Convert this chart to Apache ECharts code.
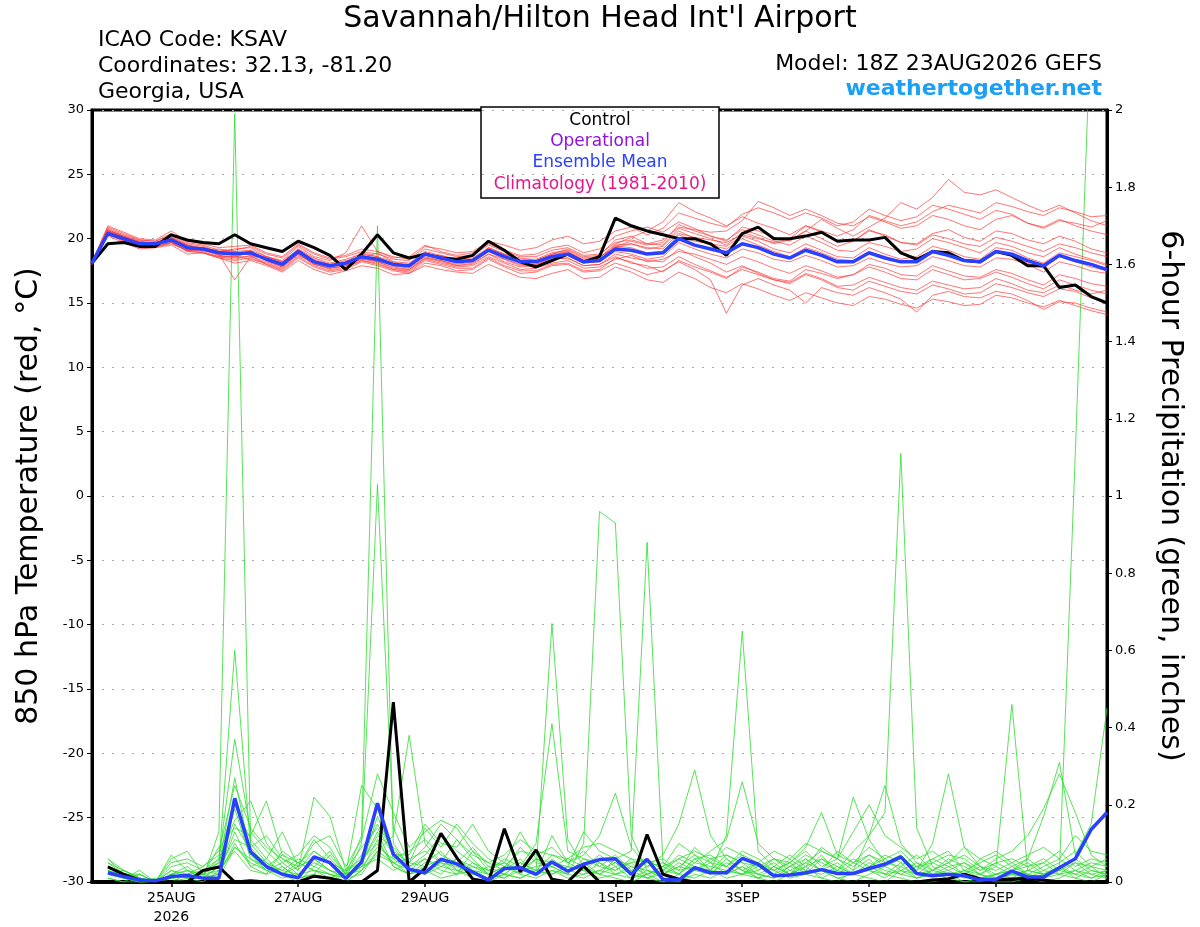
<!DOCTYPE html>
<html>
<head>
<meta charset="utf-8">
<title>KSAV GEFS</title>
<script src="https://cdn.jsdelivr.net/npm/echarts@6/dist/echarts.min.js"></script>
<style>
  html, body { margin: 0; padding: 0; background: #fff; }
  #chart { width: 1200px; height: 927px; }
</style>
</head>
<body>
<div id="chart"></div>
<script>
// 6-hourly steps from 18Z 23AUG2026 to 18Z 8SEP2026 (65 steps)
const tickIndex = [5, 13, 21, 33, 41, 49, 57];
const tickLabels = ['25AUG\n2026', '27AUG', '29AUG', '1SEP', '3SEP', '5SEP', '7SEP'];

// 850 hPa temperature, deg C
const tempControl = [
  18.1,19.6,19.7,19.4,19.4,20.3,19.9,19.7,19.6,20.3,
  19.6,19.3,19.0,19.8,19.3,18.7,17.6,18.8,20.3,18.9,
  18.5,18.8,18.5,18.4,18.7,19.8,19.1,18.2,17.8,18.3,
  18.8,18.2,18.6,21.6,21.0,20.6,20.3,20.0,20.0,19.6,
  18.7,20.4,20.9,20.0,20.0,20.2,20.5,19.8,19.9,19.9,
  20.1,18.9,18.4,19.0,18.9,18.3,18.2,19.0,18.7,17.9,
  17.9,16.2,16.4,15.5,15.0];
const tempMean = [
  18.1,20.4,20.0,19.6,19.6,19.9,19.3,19.2,18.9,18.8,
  18.9,18.4,18.0,19.0,18.2,17.9,18.1,18.6,18.4,18.0,
  17.9,18.8,18.5,18.2,18.3,19.1,18.6,18.2,18.2,18.6,
  18.8,18.2,18.3,19.2,19.1,18.8,18.9,20.0,19.5,19.2,
  18.9,19.6,19.3,18.8,18.5,19.1,18.7,18.2,18.2,18.9,
  18.5,18.2,18.2,19.0,18.7,18.3,18.2,19.0,18.8,18.3,
  17.9,18.7,18.3,18.0,17.6];

const t01 = [18.1,20.8,20.3,19.9,19.8,20.3,19.6,19.4,19.0,19.2, 19.3,18.6,18.3,19.4,18.6,18.3,18.9,21.0,19.0,18.6, 18.4,19.4,19.2,18.9,19.0,19.8,19.5,19.1,19.3,19.9, 20.2,19.6,19.8,20.6,20.9,20.3,20.8,22.0,21.6,21.2, 20.9,21.9,22.4,22.0,21.5,22.0,21.6,21.0,21.3,22.3, 21.8,21.4,21.7,22.6,22.3,21.9,21.5,22.2,21.9,21.2, 20.9,21.5,21.0,20.6,20.3];
const t02 = [18.1,20.2,19.7,19.2,19.3,19.5,18.8,18.9,18.5,18.1, 18.3,17.9,17.4,18.3,17.6,17.2,17.5,17.9,17.7,17.2, 17.3,17.9,17.6,17.4,17.3,18.0,17.5,17.0,16.9,17.3, 17.6,16.9,17.0,17.8,17.4,16.8,16.6,17.4,16.9,16.2, 15.8,16.5,16.1,15.6,15.2,15.8,15.4,15.0,14.8,15.5, 15.3,14.9,14.6,15.3,15.1,14.8,14.9,15.6,15.4,15.0, 14.7,15.2,14.8,14.4,14.1];
const t03 = [18.0,20.6,20.1,19.8,19.5,20.0,19.5,19.1,19.2,19.0, 18.7,18.6,18.2,19.1,18.4,18.0,18.3,18.5,18.9,18.2, 17.8,18.7,18.7,18.3,18.2,19.3,18.8,18.5,18.3,18.8, 19.2,18.6,18.7,19.9,20.2,19.6,19.5,20.8,20.4,20.0, 19.5,20.5,20.1,19.6,19.9,20.6,20.0,19.4,19.8,20.7, 20.2,19.7,19.6,20.4,20.7,20.1,19.8,20.6,20.4,19.9, 19.6,20.2,19.8,19.2,18.9];
const t04 = [18.1,20.5,19.9,19.4,19.7,19.8,19.0,19.3,18.7,18.5, 19.1,18.3,17.8,18.8,18.0,17.7,17.9,18.6,18.2,17.8, 17.6,18.5,18.2,17.9,18.1,18.8,18.2,17.8,17.9,18.4, 18.5,17.9,18.0,18.8,18.5,18.3,18.2,19.2,18.6,18.1, 17.4,17.9,17.3,16.8,16.5,17.2,16.8,16.2,16.0,16.7, 16.3,15.9,15.7,16.4,16.1,15.7,15.8,16.5,16.2,15.8, 15.5,16.1,15.9,15.4,15.0];
const t05 = [18.2,21.0,20.5,20.0,19.9,20.6,19.8,19.6,19.3,19.4, 19.5,18.9,18.6,19.6,18.9,18.5,18.7,19.2,19.0,18.5, 18.6,19.5,19.0,18.7,18.9,19.6,19.1,18.7,18.8,19.3, 19.5,18.9,19.2,20.2,20.6,20.9,20.5,21.3,20.8,20.2, 19.8,20.9,20.6,20.1,19.8,20.6,21.5,20.8,20.2,20.9, 21.6,22.8,22.3,23.2,24.6,23.6,23.4,23.8,23.2,22.6, 22.1,22.6,22.0,21.4,21.0];
const t06 = [18.0,20.3,19.9,19.5,19.4,19.6,19.1,19.0,18.6,18.6, 18.4,18.1,17.7,18.7,18.1,17.6,17.8,18.3,18.0,17.6, 17.5,18.4,18.1,17.8,17.9,18.6,18.1,17.6,17.7,18.1, 18.3,17.7,17.8,18.4,18.7,18.2,18.4,19.0,18.8,18.4, 18.0,18.6,18.2,17.7,17.3,17.9,17.5,17.0,17.2,17.8, 17.4,16.9,16.8,17.6,17.2,16.8,16.9,17.4,17.0,16.5, 16.1,16.8,16.4,16.0,15.7];
const t07 = [18.1,20.7,20.2,19.7,19.6,20.1,19.4,19.2,18.8,16.8, 18.6,18.5,18.1,19.2,18.3,17.9,18.0,18.4,18.3,17.9, 17.7,18.6,18.3,18.0,18.2,19.0,18.4,18.0,18.0,18.5, 18.7,18.1,18.2,19.0,18.8,18.4,18.6,19.7,19.2,18.8, 18.5,19.2,18.9,18.4,18.2,18.7,18.3,17.8,17.9,18.5, 18.1,17.8,17.9,18.6,18.3,17.9,17.8,18.5,18.4,18.0, 17.4,18.2,17.9,17.5,17.3];
const t08 = [18.1,20.9,20.4,19.9,19.8,20.4,19.7,19.5,19.1,19.1, 19.4,18.8,18.5,19.5,18.8,18.4,18.6,19.0,18.8,18.4, 18.3,19.2,18.9,18.6,18.7,19.5,19.0,18.6,18.6,19.1, 19.3,18.7,18.8,19.7,19.9,19.6,19.9,20.9,20.7,20.5, 20.6,21.4,22.9,22.4,21.8,22.3,21.8,21.2,21.0,21.7, 21.3,20.8,21.0,21.8,21.5,21.0,20.7,21.5,21.8,21.2, 20.8,21.4,21.2,20.9,21.4];
const t09 = [18.0,20.4,19.8,19.3,19.3,19.7,19.0,18.9,18.5,18.3, 18.5,18.0,17.5,18.5,17.8,17.4,17.6,18.2,17.9,17.5, 17.3,18.1,17.9,17.5,17.6,18.4,17.8,17.3,17.4,17.9, 18.0,17.4,17.5,18.1,17.7,17.2,17.5,18.2,17.6,16.8, 14.2,16.4,16.9,16.4,16.0,15.0,16.2,15.8,15.6,16.2, 15.8,15.3,14.3,15.6,15.9,15.5,15.4,15.9,15.7,15.2, 14.5,15.1,15.0,14.6,14.3];
const t10 = [18.1,20.6,20.1,19.7,19.6,20.0,19.3,19.3,19.0,18.9, 18.9,18.3,17.9,19.0,18.2,17.8,18.2,18.6,18.5,18.1, 17.9,18.8,18.6,18.2,18.3,19.1,18.6,18.3,18.2,18.6, 18.8,18.2,18.3,19.4,19.3,18.9,19.0,20.3,19.8,19.6, 19.4,20.2,19.8,19.2,18.9,19.6,19.1,18.6,18.5,19.3, 18.8,18.4,18.6,19.4,19.1,18.6,18.4,19.3,19.1,18.5, 18.1,18.9,18.6,18.3,17.9];
const t11 = [18.2,20.5,20.0,19.6,19.5,19.9,19.2,19.1,18.8,18.8, 18.8,18.4,17.9,18.9,18.3,17.8,18.0,18.7,18.4,18.0, 17.9,18.9,18.5,18.2,18.4,19.2,18.7,18.2,18.3,18.7, 19.0,18.4,18.5,19.5,19.6,19.3,19.2,20.4,20.1,19.9, 19.7,20.3,20.0,19.7,20.0,21.0,20.6,20.2,20.7,21.8, 21.4,21.0,21.3,22.1,22.6,22.3,22.0,22.8,22.5,22.1, 21.8,22.4,22.1,21.7,21.8];
const t12 = [18.0,20.3,19.8,19.4,19.4,19.7,19.1,18.9,18.6,18.4, 18.7,18.0,17.6,18.6,17.9,17.5,17.7,18.3,18.1,17.6, 17.4,18.3,18.0,17.7,17.7,18.5,17.9,17.5,17.5,18.0, 18.1,17.5,17.6,18.5,18.2,17.7,17.8,18.6,18.0,17.5, 17.0,17.6,17.2,16.8,16.6,17.3,16.9,16.3,16.4,17.0, 16.6,16.2,16.0,16.7,16.4,16.1,16.2,16.9,16.5,16.0, 15.8,16.4,16.0,15.7,16.0];
const t13 = [18.1,20.7,20.2,19.8,19.7,20.2,19.5,19.3,19.0,19.0, 19.1,18.6,18.2,19.2,18.5,18.1,18.4,18.8,18.6,18.2, 18.1,19.0,18.7,18.4,18.5,19.3,18.8,18.4,18.4,18.9, 19.1,18.5,18.6,19.3,19.6,19.2,19.4,20.6,20.0,19.5, 19.2,20.0,19.5,19.0,18.6,19.3,18.9,18.4,18.3,19.0, 18.6,18.2,18.3,19.1,18.8,18.3,18.1,19.0,18.7,18.1, 17.7,18.6,18.2,17.8,17.5];
const t14 = [18.1,20.6,20.2,19.7,19.7,20.1,19.5,19.2,18.9,18.9, 19.0,18.4,18.0,19.1,18.3,17.9,18.2,18.9,18.6,18.0, 17.8,18.9,18.6,18.3,18.4,19.2,18.7,18.3,18.3,18.8, 19.0,18.3,18.5,19.6,20.1,20.6,21.3,22.8,22.1,21.6, 21.0,21.7,21.2,20.8,20.3,21.0,20.5,19.9,19.8,20.6, 20.3,19.7,19.5,20.3,20.0,19.6,19.4,20.1,19.8,19.4, 19.0,19.6,19.3,18.9,18.6];
const t15 = [18.0,20.4,19.9,19.4,19.5,19.7,19.1,19.1,18.7,18.6, 18.6,18.2,17.8,18.8,18.0,17.7,17.9,18.4,18.2,17.7, 17.6,18.5,18.3,17.9,18.0,18.8,18.4,17.9,18.0,18.4, 18.5,17.9,18.0,18.6,18.1,17.9,17.4,18.3,17.8,17.4, 16.9,17.8,17.4,16.9,16.7,17.6,17.3,16.9,17.2,18.0, 17.7,17.2,17.1,17.9,17.5,17.1,17.0,17.6,17.3,16.8, 16.4,17.2,16.9,16.5,16.3];
const t16 = [18.1,20.5,20.1,19.6,19.6,19.9,19.3,19.2,18.9,18.8, 18.9,18.4,18.0,19.0,18.2,17.9,18.1,18.6,18.4,18.0, 17.9,18.8,18.5,18.2,18.3,19.1,18.6,18.2,18.2,18.6, 18.8,18.2,18.3,19.4,19.8,19.5,19.7,21.1,20.6,20.2, 19.9,20.7,20.3,19.8,19.5,20.2,19.7,19.1,19.0,19.7, 19.4,19.0,19.2,20.0,19.7,19.3,18.9,19.7,19.4,18.9, 18.6,19.3,18.8,18.4,18.0];

// 6-hour precipitation, inches (first step has no accumulation)
const precipControl = [
  null,0.039,0.02,0.005,0,0,0,0.03,0.039,0,
  0.003,0,0,0,0.015,0.01,0,0,0.03,0.466,
  0,0.035,0.126,0.063,0.008,0,0.138,0.026,0.083,0.007,
  0,0.041,0,0,0,0.123,0.02,0.007,0,0,
  0,0,0,0,0,0,0,0,0,0,
  0,0,0,0.005,0.008,0.02,0.008,0.005,0.008,0.01,
  0.005,0,0,0,0];
const precipMean = [
  null,0.024,0.014,0.005,0.003,0.014,0.017,0.01,0.01,0.217,
  0.078,0.04,0.02,0.011,0.065,0.05,0.009,0.052,0.204,0.072,
  0.033,0.024,0.059,0.047,0.026,0.005,0.035,0.037,0.02,0.052,
  0.028,0.046,0.058,0.06,0.02,0.059,0.007,0.005,0.037,0.024,
  0.024,0.061,0.046,0.016,0.018,0.024,0.032,0.022,0.022,0.035,
  0.046,0.065,0.022,0.016,0.02,0.016,0.005,0.007,0.028,0.013,
  0.013,0.037,0.06,0.136,0.18];

const p01 = [null,0.03,0.01,0,0,0.02,0.04,0.01,0.13,1.99, 0.10,0.05,0.02,0,0.04,0.02,0,0.03,0.08,0.05, 0.02,0.04,0.06,0.03,0.01,0,0.02,0.05,0.03,0.67, 0.11,0.04,0.02,0.01,0,0.02,0,0,0.03,0.05, 0.02,0.04,0.01,0,0.02,0.04,0.01,0,0.03,0.06, 0.02,0.01,0,0,0.01,0.03,0.02,0,0,0.01, 0.02,0.04,0.01,0,0.02];
const p02 = [null,0.06,0.02,0.01,0,0.01,0.02,0.03,0.05,0.60, 0.09,0.12,0.06,0.03,0.08,0.05,0.01,0.10,1.03,0.14, 0.05,0.09,0.15,0.11,0.06,0.02,0.04,0.02,0.01,0.03, 0.02,0.06,0.04,0.03,0.05,0.01,0,0.02,0.06,0.03, 0.01,0.02,0.05,0.03,0.01,0.02,0.06,0.04,0.02,0.01, 0,0.03,0.05,0.02,0.01,0,0,0.02,0.01,0.03, 0.05,0.02,0.01,0.03,0.02];
const p03 = [null,0.02,0.01,0,0,0,0.01,0.02,0.01,0.09, 0.05,0.03,0.01,0.02,0.06,0.03,0.02,0.12,1.70,0.10, 0.04,0.06,0.03,0.02,0.08,0.03,0.05,0.02,0.06,0.04, 0.02,0.10,0.96,0.93,0.12,0.03,0.01,0,0.02,0.01, 0.03,0.02,0.01,0.04,0.02,0.05,0.03,0.01,0,0.02, 0.04,0.02,0.01,0.03,0.02,0,0.01,0,0.02,0.01, 0,0.01,0.03,0.02,0.01];
const p04 = [null,0.04,0.02,0.01,0,0.03,0.01,0.02,0.06,0.37, 0.13,0.08,0.04,0.01,0.02,0.07,0.02,0.04,0.09,0.06, 0.03,0.02,0.05,0.04,0.02,0.01,0.03,0.06,0.02,0.12, 0.05,0.03,0.02,0.06,0.08,0.88,0.05,0.03,0.04,0.02, 0.06,0.03,0.02,0.01,0.04,0.03,0.07,0.02,0.05,0.03, 0.02,0.05,0.01,0.02,0.04,0.02,0.01,0.02,0.03,0.02, 0.01,0.03,0.02,0.04,0.01];
const p05 = [null,0.01,0,0.02,0,0.01,0.03,0.01,0.04,0.27, 0.07,0.03,0.05,0.02,0.03,0.01,0.03,0.05,0.13,0.04, 0.02,0.05,0.08,0.03,0.04,0.02,0.01,0.03,0.04,0.05, 0.03,0.02,0.05,0.02,0.03,0.01,0.02,0.04,0.07,0.03, 0.12,0.65,0.08,0.04,0.02,0.06,0.03,0.05,0.02,0.04, 0.06,0.03,0.02,0.05,0.03,0.01,0.02,0.04,0.02,0.01, 0.03,0.02,0.05,0.02,0.03];
const p06 = [null,0.03,0.01,0,0.01,0,0.02,0.01,0.02,0.13, 0.04,0.02,0.08,0.05,0.03,0.02,0.01,0.04,0.17,0.07, 0.03,0.02,0.04,0.06,0.03,0.01,0.02,0.01,0.03,0.02, 0.04,0.03,0.01,0.02,0.04,0.03,0.02,0.05,0.03,0.06, 0.04,0.02,0.03,0.05,0.02,0.04,0.06,0.03,0.08,0.12, 0.18,1.11,0.14,0.04,0.02,0.03,0.01,0.02,0.04,0.02, 0.01,0.02,0.03,0.01,0.02];
const p07 = [null,0.02,0.03,0.01,0,0.02,0.01,0,0.03,0.09, 0.06,0.04,0.03,0.02,0.05,0.03,0.01,0.02,0.08,0.12, 0.38,0.10,0.05,0.02,0.03,0.02,0.04,0.03,0.02,0.06, 0.03,0.05,0.02,0.04,0.01,0.03,0.02,0.04,0.03,0.02, 0.05,0.03,0.01,0.02,0.06,0.03,0.02,0.04,0.02,0.03, 0.01,0.04,0.02,0.03,0.05,0.02,0.06,0.04,0.46,0.03, 0.02,0.04,0.02,0.01,0.03];
const p08 = [null,0.01,0,0,0,0.01,0,0.02,0.03,0.08, 0.03,0.02,0.04,0.01,0.02,0.01,0,0.03,0.11,0.04, 0.02,0.03,0.01,0.02,0.05,0.02,0.01,0.04,0.02,0.03, 0.01,0.02,0.03,0.02,0.01,0.02,0.04,0.02,0.01,0.03, 0.02,0.04,0.02,0.01,0.03,0.02,0.01,0.03,0.02,0.04, 0.02,0.03,0.01,0.02,0.01,0.02,0.04,0.01,0.02,0.03, 0.02,0.03,1.11,2.25,2.60];
const p09 = [null,0.05,0.03,0.01,0,0.02,0.01,0.03,0.02,0.10, 0.04,0.06,0.02,0.05,0.03,0.02,0.01,0.04,0.06,0.03, 0.05,0.04,0.02,0.06,0.04,0.03,0.02,0.01,0.03,0.04, 0.02,0.01,0.03,0.05,0.02,0.01,0.03,0.02,0.05,0.04, 0.03,0.02,0.04,0.03,0.05,0.02,0.03,0.01,0.02,0.05, 0.03,0.02,0.04,0.02,0.03,0.05,0.02,0.01,0.03,0.06, 0.17,0.31,0.07,0.15,0.45];
const p10 = [null,0.02,0.01,0.03,0,0.06,0.08,0.02,0.05,0.19, 0.06,0.03,0.02,0.04,0.11,0.06,0.02,0.03,0.07,0.05, 0.03,0.06,0.04,0.03,0.02,0.04,0.05,0.03,0.06,0.02, 0.04,0.03,0.06,0.05,0.02,0.04,0.07,0.15,0.29,0.12, 0.06,0.03,0.05,0.02,0.04,0.06,0.03,0.08,0.05,0.07, 0.04,0.06,0.03,0.10,0.28,0.09,0.04,0.02,0.03,0.05, 0.02,0.04,0.06,0.03,0.02];
const p11 = [null,0.04,0.02,0,0,0.07,0.03,0.01,0.02,0.15, 0.08,0.05,0.03,0.06,0.04,0.08,0.02,0.25,0.19,0.06, 0.08,0.11,0.07,0.05,0.09,0.04,0.02,0.05,0.03,0.07, 0.05,0.08,0.04,0.07,0.03,0.05,0.06,0.03,0.09,0.05, 0.04,0.07,0.03,0.06,0.05,0.08,0.04,0.06,0.03,0.12, 0.25,0.10,0.05,0.03,0.06,0.04,0.02,0.05,0.03,0.04, 0.06,0.03,0.05,0.04,0.03];
const p12 = [null,0.03,0.01,0.02,0,0.01,0.02,0.04,0.07,0.20, 0.11,0.06,0.13,0.04,0.06,0.03,0.01,0.05,0.12,0.09, 0.04,0.07,0.12,0.08,0.05,0.03,0.06,0.04,0.10,0.41, 0.08,0.06,0.05,0.03,0.06,0.02,0.04,0.06,0.04,0.03, 0.07,0.05,0.02,0.04,0.07,0.04,0.09,0.06,0.22,0.11, 0.05,0.04,0.07,0.03,0.05,0.07,0.04,0.03,0.05,0.02, 0.04,0.06,0.03,0.05,0.04];
const p13 = [null,0.02,0.03,0.01,0,0.03,0.02,0.01,0.04,0.11, 0.09,0.04,0.07,0.03,0.22,0.17,0.03,0.06,0.10,0.05, 0.06,0.08,0.05,0.11,0.07,0.05,0.03,0.09,0.05,0.04, 0.06,0.04,0.07,0.04,0.05,0.06,0.03,0.07,0.05,0.08, 0.11,0.26,0.10,0.06,0.04,0.07,0.05,0.03,0.06,0.04, 0.07,0.05,0.04,0.06,0.08,0.03,0.05,0.07,0.04,0.06, 0.03,0.05,0.08,0.04,0.06];
const p14 = [null,0.05,0.02,0.01,0,0.04,0.05,0.03,0.06,0.16, 0.21,0.10,0.05,0.07,0.12,0.09,0.02,0.07,0.15,0.08, 0.05,0.14,0.09,0.15,0.10,0.06,0.04,0.08,0.07,0.09, 0.05,0.07,0.12,0.23,0.09,0.04,0.05,0.02,0.06,0.07, 0.04,0.08,0.06,0.03,0.05,0.09,0.18,0.07,0.05,0.09, 0.06,0.08,0.04,0.05,0.07,0.06,0.03,0.05,0.06,0.04, 0.05,0.08,0.04,0.06,0.05];
const p15 = [null,0.03,0.02,0.02,0,0.02,0.03,0.02,0.09,0.14, 0.12,0.21,0.07,0.05,0.08,0.05,0.03,0.09,0.14,0.07, 0.07,0.15,0.10,0.09,0.15,0.08,0.05,0.13,0.06,0.05, 0.04,0.13,0.08,0.06,0.04,0.02,0.03,0.06,0.08,0.06, 0.07,0.05,0.04,0.06,0.03,0.05,0.08,0.06,0.04,0.07, 0.05,0.07,0.03,0.06,0.04,0.05,0.03,0.06,0.08,0.12, 0.19,0.28,0.18,0.07,0.04];
const p16 = [null,0.06,0.03,0.01,0,0.05,0.06,0.04,0.08,0.25, 0.14,0.09,0.06,0.04,0.10,0.12,0.04,0.11,0.28,0.18, 0.09,0.13,0.16,0.14,0.08,0.05,0.07,0.11,0.08,0.07, 0.06,0.09,0.10,0.08,0.06,0.05,0.04,0.10,0.07,0.05, 0.09,0.07,0.05,0.08,0.06,0.10,0.08,0.06,0.13,0.20, 0.12,0.09,0.06,0.08,0.05,0.09,0.06,0.08,0.05,0.07, 0.09,0.06,0.12,0.08,0.07];

const tempMembers = [t01,t02,t03,t04,t05,t06,t07,t08,t09,t10,t11,t12,t13,t14,t15,t16];
const precipMembers = [p01,p02,p03,p04,p05,p06,p07,p08,p09,p10,p11,p12,p13,p14,p15,p16];

function createEnsembleChart(divName) {
    var chart = echarts.init(document.getElementById(divName));
    var font = 'DejaVu Sans';
    var steps = tempControl.map(function (v, i) { return String(i); });
    var isDayTick = function (index) { return tickIndex.indexOf(index) >= 0; };

    var series = [];
    precipMembers.forEach(function (d) {
        series.push({
            type: 'line', yAxisIndex: 1, data: d, symbol: 'none', silent: true,
            lineStyle: { color: '#2fdc2f', width: 0.9, opacity: 0.9 }
        });
    });
    tempMembers.forEach(function (d) {
        series.push({
            type: 'line', yAxisIndex: 0, data: d, symbol: 'none', silent: true,
            lineStyle: { color: '#ff3333', width: 0.8, opacity: 0.85 }
        });
    });
    series.push({
        name: 'Control', type: 'line', yAxisIndex: 1, data: precipControl, symbol: 'none',
        lineStyle: { color: '#000', width: 3 }
    });
    series.push({
        name: 'Ensemble Mean', type: 'line', yAxisIndex: 1, data: precipMean, symbol: 'none',
        lineStyle: { color: '#2a40ff', width: 3.5 }
    });
    series.push({
        name: 'Control', type: 'line', yAxisIndex: 0, data: tempControl, symbol: 'none',
        lineStyle: { color: '#000', width: 3 }
    });
    series.push({
        name: 'Ensemble Mean', type: 'line', yAxisIndex: 0, data: tempMean, symbol: 'none',
        lineStyle: { color: '#2a40ff', width: 3.5 }
    });

    var option = {
        animation: false,
        grid: {
            left: 92, right: 93, top: 110, bottom: 45,
            show: true, borderColor: '#000', borderWidth: 3,
            outerBoundsMode: 'none'
        },
        xAxis: {
            type: 'category',
            boundaryGap: false,
            data: steps,
            axisLine: { onZero: false, lineStyle: { color: '#000', width: 4 } },
            axisTick: { interval: isDayTick, length: 5, lineStyle: { color: '#000', width: 1.5 } },
            axisLabel: {
                interval: isDayTick,
                formatter: function (value, index) {
                    var k = tickIndex.indexOf(index);
                    return k >= 0 ? tickLabels[k] : '';
                },
                color: '#000', fontFamily: font, fontSize: 14, lineHeight: 19, margin: 7
            },
            splitLine: { show: false }
        },
        yAxis: [
            {
                type: 'value', min: -30, max: 30, interval: 5, position: 'left',
                name: '850 hPa Temperature (red, °C)',
                nameLocation: 'middle', nameGap: 48, nameRotate: 90,
                nameTextStyle: { fontFamily: font, fontSize: 30, color: '#000' },
                axisLine: { show: true, lineStyle: { color: '#000', width: 3 } },
                axisTick: { show: true, length: 5, lineStyle: { color: '#000' } },
                axisLabel: { color: '#000', fontFamily: font, fontSize: 13, margin: 8 },
                splitLine: { show: true, lineStyle: { color: '#aaa', type: [2, 8], width: 1 } }
            },
            {
                type: 'value', min: 0, max: 2, interval: 0.2, position: 'right',
                name: '6-hour Precipitation (green, inches)',
                nameLocation: 'middle', nameGap: 48, nameRotate: -90,
                nameTextStyle: { fontFamily: font, fontSize: 30, color: '#000' },
                axisLine: { show: true, lineStyle: { color: '#000', width: 3 } },
                axisTick: { show: true, length: 5, lineStyle: { color: '#000' } },
                axisLabel: {
                    color: '#000', fontFamily: font, fontSize: 13, margin: 8,
                    formatter: function (v) { return String(+v.toFixed(1)); }
                },
                splitLine: { show: false }
            }
        ],
        graphic: [
            { type: 'text', left: 'center', top: 4, style: { text: "Savannah/Hilton Head Int'l Airport", fontFamily: font, fontSize: 30, fill: '#000' } },
            { type: 'text', x: 98, y: 40, style: { text: 'ICAO Code: KSAV', fontFamily: font, fontSize: 22, fill: '#000', verticalAlign: 'middle', textVerticalAlign: 'middle' } },
            { type: 'text', x: 98, y: 66, style: { text: 'Coordinates: 32.13, -81.20', fontFamily: font, fontSize: 22, fill: '#000', verticalAlign: 'middle', textVerticalAlign: 'middle' } },
            { type: 'text', x: 98, y: 92, style: { text: 'Georgia, USA', fontFamily: font, fontSize: 22, fill: '#000', verticalAlign: 'middle', textVerticalAlign: 'middle' } },
            { type: 'text', x: 1102, y: 64, style: { text: 'Model: 18Z 23AUG2026 GEFS', fontFamily: font, fontSize: 22, fill: '#000', align: 'right', textAlign: 'right', verticalAlign: 'middle', textVerticalAlign: 'middle' } },
            { type: 'text', x: 1102, y: 89, style: { text: 'weathertogether.net', fontFamily: font, fontSize: 22, fontWeight: 'bold', fill: '#1aa0f5', align: 'right', textAlign: 'right', verticalAlign: 'middle', textVerticalAlign: 'middle' } },
            {
                type: 'group', z: 100,
                children: [
                    { type: 'rect', shape: { x: 481, y: 107, width: 238, height: 91 }, style: { fill: '#fff', stroke: '#000', lineWidth: 1.5 } },
                    { type: 'text', x: 600, y: 121, style: { text: 'Control', fontFamily: font, fontSize: 17, fill: '#000', align: 'center', textAlign: 'center', verticalAlign: 'middle', textVerticalAlign: 'middle' } },
                    { type: 'text', x: 600, y: 142, style: { text: 'Operational', fontFamily: font, fontSize: 17, fill: '#9010e0', align: 'center', textAlign: 'center', verticalAlign: 'middle', textVerticalAlign: 'middle' } },
                    { type: 'text', x: 600, y: 163, style: { text: 'Ensemble Mean', fontFamily: font, fontSize: 17, fill: '#2a40ff', align: 'center', textAlign: 'center', verticalAlign: 'middle', textVerticalAlign: 'middle' } },
                    { type: 'text', x: 600, y: 185, style: { text: 'Climatology (1981-2010)', fontFamily: font, fontSize: 17, fill: '#e8158a', align: 'center', textAlign: 'center', verticalAlign: 'middle', textVerticalAlign: 'middle' } }
                ]
            }
        ],
        series: series
    };
    chart.setOption(option);
    window.addEventListener('resize', function () {
        chart.resize();
    });
}

createEnsembleChart('chart');
</script>
</body>
</html>
